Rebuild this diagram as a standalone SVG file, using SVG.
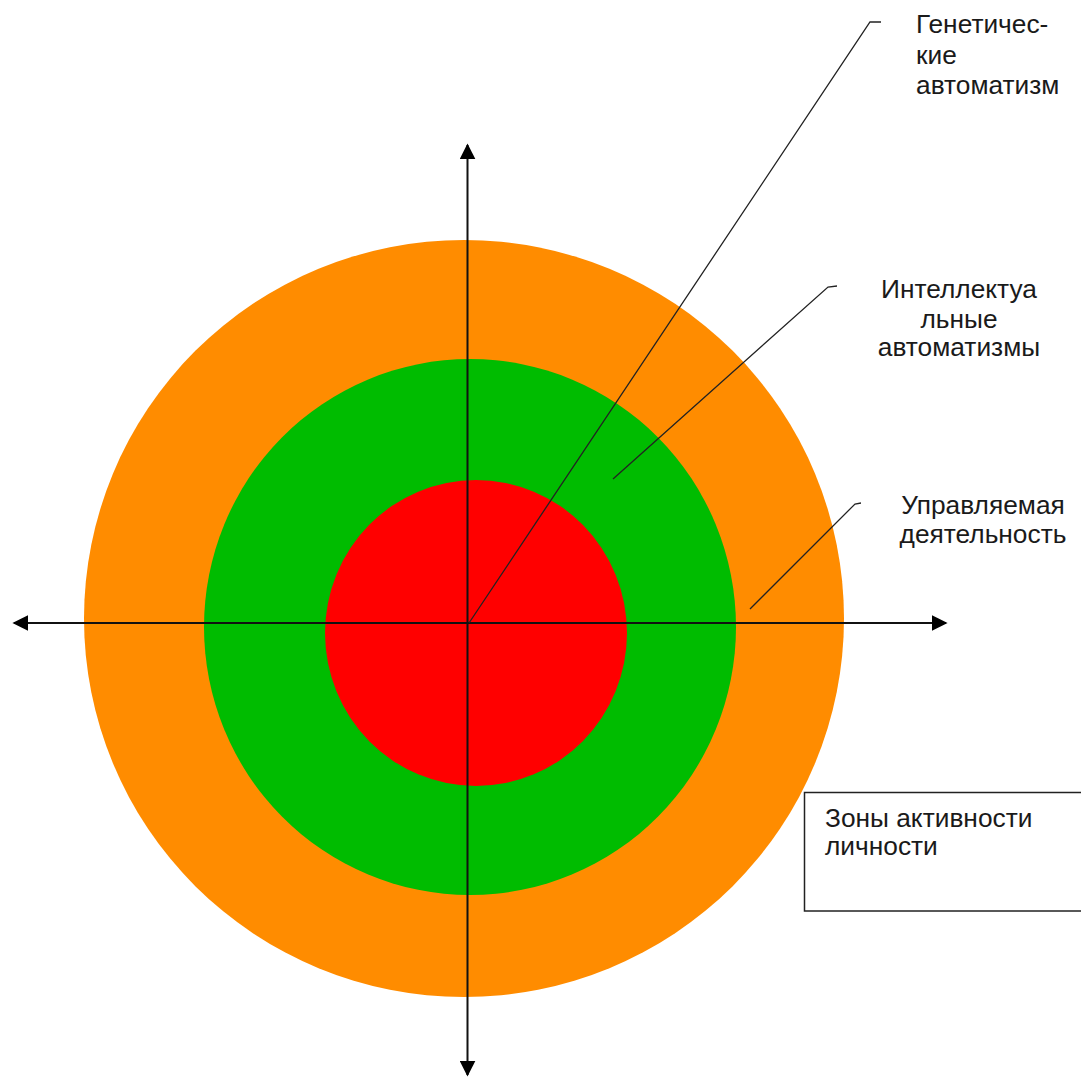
<svg xmlns="http://www.w3.org/2000/svg" width="1081" height="1077" viewBox="0 0 1081 1077">
<style>
.lbl{font-family:"Liberation Sans",Arial,sans-serif;font-size:26.3px;fill:#1a1a1a}
.axis{stroke:#111;stroke-width:2;fill:none}
.lead{stroke:#222;stroke-width:1.3;fill:none}
</style>
<defs>
<marker id="ah" viewBox="0 0 10 10" refX="9" refY="5" markerWidth="8" markerHeight="8" markerUnits="strokeWidth" orient="auto">
<path d="M0,0 L10,5 L0,10 z" fill="#000"/>
</marker>
</defs>
<rect width="1081" height="1077" fill="#fff"/>
<g id="zone-outer"><ellipse cx="464" cy="618.5" rx="380" ry="378.5" fill="#FF8C00"/></g>
<g id="zone-middle"><ellipse cx="470" cy="627" rx="266" ry="268" fill="#00BC00"/></g>
<g id="zone-inner"><ellipse cx="476" cy="633" rx="151" ry="153" fill="#FF0000"/></g>
<g id="connectors">
<line class="axis" x1="468" y1="623" x2="14" y2="623" marker-end="url(#ah)"/>
<line class="axis" x1="468" y1="623" x2="946" y2="623" marker-end="url(#ah)"/>
<line class="axis" x1="467.5" y1="623" x2="467.5" y2="145" marker-end="url(#ah)"/>
<line class="axis" x1="467.5" y1="623" x2="467.5" y2="1075" marker-end="url(#ah)"/>
<polyline class="lead" points="469,623 870,22 881,22"/>
<polyline class="lead" points="613,479 828,287 837,286"/>
<polyline class="lead" points="750,609 855,504 861,503"/>
</g>
<g id="label-genetic">
<text class="lbl" x="916" y="33">Генетичес-<tspan x="916" dy="31">кие</tspan><tspan x="916" dy="30">автоматизм</tspan></text>
</g>
<g id="label-intellect">
<text class="lbl" x="959" y="298" text-anchor="middle">Интеллектуа<tspan x="959" dy="30">льные</tspan><tspan x="959" dy="28">автоматизмы</tspan></text>
</g>
<g id="label-managed">
<text class="lbl" x="983" y="514" text-anchor="middle">Управляемая<tspan x="983" dy="29">деятельность</tspan></text>
</g>
<g id="legend">
<rect x="804.5" y="792.5" width="290" height="118.5" fill="#fff" stroke="#222" stroke-width="1.5"/>
<text class="lbl" x="825" y="827">Зоны активности<tspan x="825" dy="28">личности</tspan></text>
</g>
</svg>
